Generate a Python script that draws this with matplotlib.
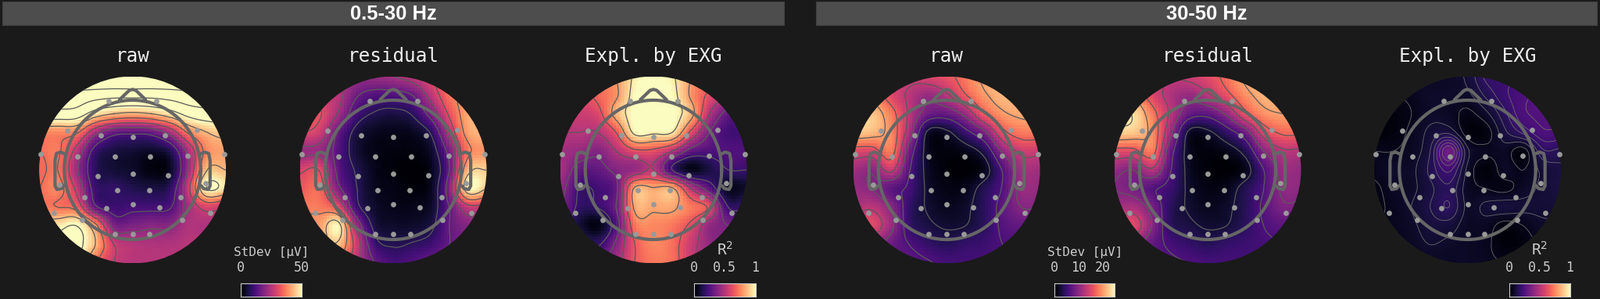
import numpy as np
import matplotlib
matplotlib.use('Agg')
import matplotlib.pyplot as plt
from matplotlib.patches import Circle

BG = '#1a1a1a'
W, H = 2047, 382

band_labels = ['0.5-30 Hz', '30-50 Hz']
panel_titles = ['raw', 'residual', 'Expl. by EXG', 'raw', 'residual', 'Expl. by EXG']
cbar_labels = ['StDev [µV]', 'R$^2$', 'StDev [µV]', 'R$^2$']
cbar_ticks = [[0, 50], [0, 0.5, 1], [0, 10, 20], [0, 0.5, 1]]
cbar_ticklabels = [['0', '50'], ['0', '0.5', '1'], ['0', '10', '20'], ['0', '0.5', '1']]
cbar_vmax = [50, 1, 25, 1]

# Sensor positions in head units (x right, y up)
sensor_x = [-.254, .258, -.70, .69, -.34, 0, .35, -.98, -.587, -.19, .19, .59, .98,
            -.377, 0, .38, -.785, .78, -.165, .175, -.515, .515, 0, -.277, .284,
            -.84, .835, -.54, .53, -.19, 0, .18]
sensor_y = [.74, .74, .42, .425, .365, .35, .37, .17, .145, .143, .145, .15, .167,
            -.067, -.042, -.061, -.156, -.14, -.218, -.218, -.296, -.29, -.372,
            -.408, -.402, -.46, -.458, -.536, -.536, -.687, -.687, -.687]

# Colour-scale fractions read on an 11 x 11 lattice, top row first
raw_low = [
 [1.45,1.45,1.45,1.45,1.45,1.45,1.45,1.45,1.45,1.45,1.45],
 [1.25,1.25,1.25,1.22,1.2,1.2,1.2,1.22,1.25,1.25,1.25],
 [1.1,1.1,1.08,.93,.85,.82,.85,.93,1.05,1.1,1.1],
 [.75,.75,.72,.45,.3,.28,.3,.45,.72,.85,.9],
 [.7,.72,.5,.2,.12,.1,.08,.14,.45,.75,.8],
 [.68,.7,.42,.16,.1,.08,.03,.06,.42,.85,.85],
 [.7,.75,.52,.2,.18,.14,.12,.16,.52,1.0,.95],
 [.72,.7,.65,.28,.2,.22,.22,.24,.45,.6,.55],
 [.9,.95,1.0,.75,.35,.35,.38,.38,.48,.48,.48],
 [1.0,1.05,1.05,.85,.55,.5,.48,.48,.5,.5,.5],
 [1.02,1.02,1.0,.7,.55,.5,.5,.5,.5,.5,.5]]
res_low = [
 [.55,.55,.5,.42,.42,.45,.5,.6,.7,.7,.7],
 [.6,.55,.5,.32,.25,.25,.3,.5,.7,.8,.8],
 [.65,.62,.45,.22,.14,.12,.16,.35,.62,.82,.85],
 [.6,.55,.3,.12,.06,.05,.06,.16,.5,.8,.85],
 [.42,.42,.26,.1,.04,.03,.03,.08,.35,.72,.78],
 [.58,.6,.28,.14,.05,.02,.01,.05,.3,.85,.9],
 [.65,.68,.35,.16,.06,.04,.02,.06,.38,.98,.9],
 [.72,.72,.6,.2,.08,.05,.05,.08,.3,.55,.55],
 [.8,.8,.97,.42,.12,.08,.08,.12,.3,.38,.38],
 [.8,.8,.88,.55,.2,.14,.16,.2,.3,.35,.35],
 [.75,.75,.72,.5,.3,.22,.25,.3,.35,.35,.35]]
expl_low = [
 [.6,.65,.7,.8,.97,1.0,.97,.8,.7,.6,.5],
 [.6,.6,.68,.78,1.0,1.05,1.0,.78,.62,.5,.4],
 [.55,.55,.6,.85,1.02,1.05,1.02,.85,.5,.3,.25],
 [.5,.5,.5,.65,.98,.97,.95,.62,.35,.22,.22],
 [.45,.42,.38,.5,.62,.62,.5,.3,.25,.25,.25],
 [.45,.3,.3,.38,.42,.5,.2,.05,.12,.2,.2],
 [.4,.2,.22,.32,.82,.81,.82,.5,.28,.06,.08],
 [.35,.18,.2,.35,.82,.815,.82,.72,.62,.2,.2],
 [.3,.1,.04,.28,.72,.75,.72,.62,.42,.35,.3],
 [.25,.2,.18,.38,.65,.75,.7,.55,.42,.35,.3],
 [.3,.3,.3,.45,.65,.72,.7,.55,.45,.4,.35]]
raw_high = [
 [.6,.65,.6,.55,.58,.62,.72,.82,.85,.85,.85],
 [.8,.75,.6,.5,.42,.5,.65,.78,.85,.85,.85],
 [.9,.88,.72,.5,.32,.3,.42,.65,.78,.82,.82],
 [.88,.85,.75,.45,.08,.08,.2,.35,.62,.72,.72],
 [.6,.6,.72,.32,.06,.03,.05,.14,.4,.55,.55],
 [.45,.4,.55,.25,.07,.02,.01,.05,.25,.45,.45],
 [.42,.38,.28,.22,.08,.04,.05,.14,.25,.42,.42],
 [.48,.5,.38,.18,.09,.06,.08,.16,.28,.38,.38],
 [.58,.6,.42,.18,.12,.09,.1,.16,.26,.3,.3],
 [.5,.45,.32,.24,.18,.15,.18,.2,.24,.25,.25],
 [.4,.35,.3,.28,.25,.22,.22,.22,.24,.25,.25]]
res_high = [
 [.6,.65,.6,.52,.55,.6,.7,.82,.85,.85,.85],
 [.85,.78,.6,.48,.42,.5,.62,.76,.84,.85,.85],
 [.95,.93,.72,.5,.3,.28,.4,.62,.76,.8,.8],
 [.9,.88,.76,.42,.08,.08,.18,.32,.58,.68,.68],
 [.62,.62,.72,.3,.06,.03,.05,.14,.38,.5,.5],
 [.42,.38,.5,.25,.07,.02,.01,.05,.24,.42,.42],
 [.38,.34,.26,.2,.08,.04,.05,.14,.24,.4,.4],
 [.44,.46,.34,.16,.09,.06,.08,.15,.26,.36,.36],
 [.6,.6,.38,.16,.12,.09,.1,.16,.24,.28,.28],
 [.5,.44,.3,.22,.18,.15,.18,.2,.22,.24,.24],
 [.4,.35,.3,.26,.24,.22,.22,.22,.22,.24,.24]]
expl_high = [
 [.08,.08,.08,.07,.07,.1,.18,.2,.22,.22,.22],
 [.05,.05,.06,.08,.08,.08,.14,.2,.24,.26,.26],
 [.03,.03,.05,.08,.07,.04,.08,.16,.24,.26,.26],
 [.02,.03,.06,.1,.12,.03,.03,.12,.18,.24,.24],
 [.05,.05,.07,.13,.33,.1,.06,.07,.03,.16,.16],
 [.06,.08,.08,.14,.22,.08,.02,.07,.05,.1,.12],
 [.04,.07,.08,.12,.16,.07,.05,.04,.07,.1,.12],
 [.04,.06,.09,.13,.17,.08,.1,.11,.1,.1,.1],
 [.05,.06,.08,.11,.11,.07,.07,.03,.05,.08,.08],
 [.05,.05,.07,.09,.08,.07,.06,.02,.03,.06,.06],
 [.05,.05,.06,.07,.07,.07,.06,.05,.05,.05,.05]]
panel_fields = [raw_low, res_low, expl_low, raw_high, res_high, expl_high]
panel_levels = [np.arange(.25, 1.5, .15), np.arange(.15, 1.0, .15), np.arange(.2, 1.05, .15),
                np.arange(.1, 1.0, .14), np.arange(.1, 1.0, .14), np.arange(.05, .32, .04)]
line_widths = [.9, .9, .9, .9, .9, .6]
line_colors = ['#5a5a5a', '#5a5a5a', '#5a5a5a', '#5a5a5a', '#5a5a5a', '#6a6a6a']

# Layout in pixels
centers_x = [169.6, 503, 836, 1211, 1545, 1877.5]
center_y, radius = 217, 119.5
band_x = [(3, 1003), (1044, 2043)]
cbar_x = [(307.5, 386), (888, 966.5), (1349, 1426.5), (1931, 2008.5)]
label_sizes = [11.5, 14, 11.5, 14]
label_y = [322, 319, 322, 319]


def rect(x0, y0, x1, y1):
    return [x0 / W, 1 - y1 / H, (x1 - x0) / W, (y1 - y0) / H]


def refine(grid, n):
    """Catmull-Rom resampling of a lattice onto an n x n mesh."""
    g = np.pad(np.asarray(grid, float), 1, mode='edge')
    t = np.linspace(0, 10, n)
    i = np.clip(np.floor(t).astype(int), 0, 9)
    f = t - i
    w = np.stack([-.5*f + f**2 - .5*f**3, 1 - 2.5*f**2 + 1.5*f**3,
                  .5*f + 2*f**2 - 1.5*f**3, -.5*f**2 + .5*f**3], axis=1)
    out = np.zeros((n, n))
    for r in range(n):
        for c in range(n):
            out[r, c] = w[r] @ g[i[r]:i[r]+4, i[c]:i[c]+4] @ w[c]
    return out


fig = plt.figure(figsize=(W / 100, H / 100), dpi=100, facecolor=BG)

for (x0, x1), label in zip(band_x, band_labels):
    ax = fig.add_axes(rect(x0, 2, x1, 32))
    ax.set_facecolor('#4d4d4d')
    ax.set_xticks([]); ax.set_yticks([])
    for s in ax.spines.values():
        s.set_color('#404040'); s.set_linewidth(.8)
    ax.text(.5, .47, label, transform=ax.transAxes, ha='center', va='center',
            color='white', fontsize=18.4, fontweight='bold', family='Liberation Sans')

head = dict(color='#666666', lw=3.0, solid_joinstyle='round', solid_capstyle='round', zorder=4)
for cx, title, field, levels, lw, lc in zip(centers_x, panel_titles, panel_fields,
                                            panel_levels, line_widths, line_colors):
    ax = fig.add_axes(rect(cx - radius, center_y - radius, cx + radius, center_y + radius))
    ax.set_xlim(-1, 1); ax.set_ylim(-1, 1)
    ax.set_aspect('equal'); ax.axis('off')
    disc = Circle((0, 0), 1, transform=ax.transData)
    im = ax.imshow(refine(field, 64), extent=(-1, 1, -1, 1), cmap='magma', vmin=0, vmax=1,
                   origin='upper', interpolation='nearest')
    im.set_clip_path(disc)
    yy = np.linspace(1, -1, 161)
    cs = ax.contour(np.linspace(-1, 1, 161), yy, refine(field, 161), levels=levels,
                    colors=lc, linewidths=lw)
    cs.set_clip_path(disc)
    th = np.linspace(0, 2 * np.pi, 200)
    ax.plot(.73 * np.cos(th), .745 * np.sin(th), clip_on=False, **head)
    ax.plot([-.14, -.035, 0, .035, .14], [.75, .85, .86, .85, .75], clip_on=False, **head)
    for sgn in (-1, 1):
        ax.plot(sgn * np.array([.725, .77, .815, .83, .83, .81, .76, .735]),
                [.17, .19, .175, .1, -.17, -.21, -.2, -.17], clip_on=False, **head)
    ax.scatter(sensor_x, sensor_y, s=24, color='#999999', linewidths=0, zorder=5, clip_on=False)
    fig.text(cx / W, 1 - 72 / H, title, ha='center', va='center', color='#eeeeee',
             fontsize=17.5, family='DejaVu Sans Mono')

ramp = np.linspace(0, 1, 256)[None, :]
for (x0, x1), vmax, ticks, labels, lab, ls, ly in zip(cbar_x, cbar_vmax, cbar_ticks, cbar_ticklabels,
                                                      cbar_labels, label_sizes, label_y):
    ax = fig.add_axes(rect(x0, 362, x1, 379))
    ax.imshow(ramp, extent=(0, vmax, 0, 1), aspect='auto', cmap='magma')
    ax.set_yticks([])
    ax.xaxis.tick_top()
    ax.set_xticks(ticks, labels)
    ax.tick_params(axis='x', length=0, pad=8, labelcolor='#cccccc', labelsize=12)
    for t in ax.get_xticklabels():
        t.set_family('DejaVu Sans Mono')
    for s in ax.spines.values():
        s.set_color('#cccccc'); s.set_linewidth(.8)
    fig.text((x0 + x1) / 2 / W, 1 - ly / H, lab, ha='center', va='center', color='#cccccc',
             fontsize=ls, family='DejaVu Sans Mono', math_fontfamily='dejavusans')

fig.savefig('out.png', dpi=100, facecolor=BG)
